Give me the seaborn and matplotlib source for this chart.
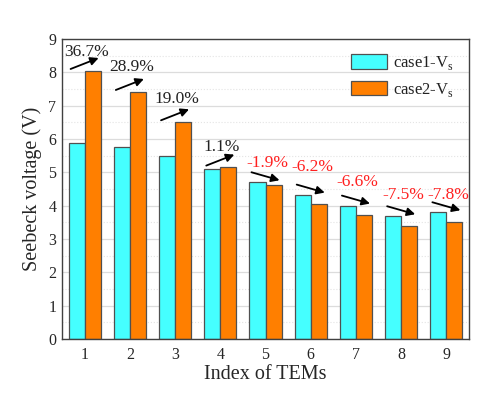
import numpy as np
import pandas as pd
import matplotlib
matplotlib.use('Agg')
import matplotlib.pyplot as plt
import seaborn as sns
from matplotlib.ticker import MultipleLocator

# data
tems = ['1', '2', '3', '4', '5', '6', '7', '8', '9']
case1 = [5.89, 5.76, 5.48, 5.09, 4.70, 4.33, 4.00, 3.68, 3.80]
case2 = [8.05, 7.42, 6.51, 5.15, 4.62, 4.06, 3.73, 3.40, 3.51]
changes = ['36.7%', '28.9%', '19.0%', '1.1%', '-1.9%', '-6.2%', '-6.6%', '-7.5%', '-7.8%']
series_names = ['case1-V$_\\mathregular{s}$', 'case2-V$_\\mathregular{s}$']

# label heights above the bars (layout only)
label_y = [8.60, 8.15, 7.19, 5.77, 5.27, 5.17, 4.72, 4.32, 4.32]

df = pd.DataFrame({
    'TEM': tems * 2,
    'V': case1 + case2,
    'case': [series_names[0]] * len(tems) + [series_names[1]] * len(tems),
})

sns.set_style('white')
plt.rcParams['font.family'] = ['Liberation Serif', 'DejaVu Serif']
plt.rcParams['mathtext.fontset'] = 'custom'
plt.rcParams['mathtext.rm'] = 'Liberation Serif'

fig = plt.figure(figsize=(5.0, 3.94), dpi=100)
ax = fig.add_axes([0.124, 0.140, 0.814, 0.761])

sns.barplot(data=df, x='TEM', y='V', hue='case', palette=['#45FFFF', '#FF7F00'],
            width=0.71, edgecolor='#505050', linewidth=0.9, saturation=1, ax=ax)

# grid: solid major, dotted minor
ax.set_ylim(0, 9)
ax.set_xlim(-0.5, 8.5)
ax.yaxis.set_major_locator(MultipleLocator(1))
ax.yaxis.set_minor_locator(MultipleLocator(0.5))
ax.grid(True, which='major', axis='y', color='#dcdcdc', lw=0.9, ls='-')
ax.grid(True, which='minor', axis='y', color='#e4e4e4', lw=0.8, ls=':')
ax.set_axisbelow(True)

for s in ax.spines.values():
    s.set_color('#404040')
    s.set_linewidth(1.0)
    s.set_visible(True)

ax.tick_params(axis='y', which='major', direction='in', length=5, width=0.9,
               color='#404040', labelsize=11.5, pad=4)
ax.tick_params(axis='y', which='minor', direction='in', length=3, width=0.8, color='#404040')
ax.tick_params(axis='x', length=0, labelsize=11.5, pad=6)

ax.set_xlabel('Index of TEMs', fontsize=14.5, labelpad=1)
ax.set_ylabel('Seebeck voltage (V)', fontsize=14.5, labelpad=5)

# arrows and percentage labels
for i, (a, b, txt) in enumerate(zip(case1, case2, changes)):
    top = max(a, b)
    if b >= a:
        y0 = top + 0.05
        y1 = y0 + 0.33
        col = '#222222'
    else:
        y0 = top + 0.3
        y1 = y0 - 0.24
        col = '#FF2020'
    ax.annotate('', xy=(i + 0.31, y1), xytext=(i - 0.31, y0),
                arrowprops=dict(arrowstyle='-|>', color='black', lw=1.3,
                                mutation_scale=12, shrinkA=0, shrinkB=0))
    ax.text(i + 0.04, label_y[i], txt, ha='center', va='center',
            fontsize=12.5, color=col)

leg = ax.legend(loc='upper right', frameon=False, fontsize=12,
                handlelength=2.15, handleheight=1.0, handletextpad=0.4,
                labelspacing=0.5, borderaxespad=0.5)
for t in leg.get_texts():
    t.set_color('#222222')

fig.savefig('out.png', dpi=100, facecolor='white')
